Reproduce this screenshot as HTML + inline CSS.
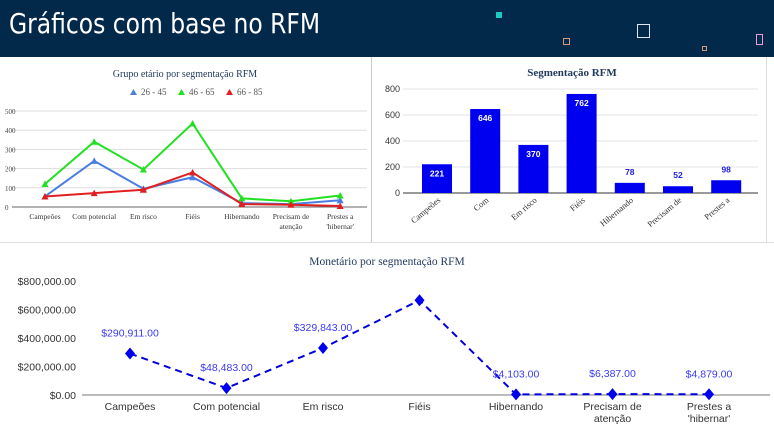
<!DOCTYPE html>
<html><head><meta charset="utf-8"><style>
body{margin:0;width:774px;height:433px;overflow:hidden;background:#fff;font-family:"Liberation Sans",sans-serif;position:relative}
#hdr{position:absolute;left:0;top:0;width:774px;height:57px;background:#02284a}
#hdr h1{position:absolute;left:9px;top:7px;margin:0;color:#fff;font:28px "DejaVu Sans Condensed","Liberation Sans Narrow","Liberation Sans",sans-serif;white-space:nowrap;transform-origin:0 0;transform:scaleX(0.93)}
svg{position:absolute}
text{font-family:"Liberation Sans",sans-serif}
.serif{font-family:"Liberation Serif",serif}
</style></head><body>
<div id="hdr">
<h1>Gráficos com base no RFM</h1>
<div style="position:absolute;left:496px;top:12px;width:6px;height:6px;background:#1ec9c2"></div>
<div style="position:absolute;left:563px;top:38px;width:5px;height:5px;border:1px solid #d9987a"></div>
<div style="position:absolute;left:637px;top:24px;width:11px;height:12px;border:1px solid #dfe6ee"></div>
<div style="position:absolute;left:702px;top:46px;width:3px;height:3px;border:1px solid #d9987a"></div>
<div style="position:absolute;left:756px;top:34px;width:5px;height:9px;border:1px solid #e0a0d8"></div>
</div>
<div style="position:absolute;left:371px;top:57px;width:1px;height:185px;background:#ccc"></div>
<div style="position:absolute;left:0;top:242px;width:774px;height:1px;background:#ddd"></div>
<div style="position:absolute;left:766px;top:57px;width:1px;height:185px;background:#ddd"></div>

<svg id="c1" width="371" height="185" style="left:0;top:57px"></svg>
<svg id="c2" width="395" height="185" style="left:372px;top:57px"></svg>
<svg id="c3" width="774" height="190" style="left:0;top:243px"></svg>

<script>
const NS="http://www.w3.org/2000/svg";
function mk(p,t,a,txt){const e=document.createElementNS(NS,t);for(const k in a)e.setAttribute(k,a[k]);if(txt!==undefined)e.textContent=txt;p.appendChild(e);return e;}

// Chart 1
const ageCats=["Campeões","Com potencial","Em risco","Fiéis","Hibernando","Precisam de|atenção","Prestes a|'hibernar'"];
const age2645=[55,240,95,155,20,15,35];
const age4665=[120,340,195,435,45,30,60];
const age6685=[55,72,90,180,15,12,5];
const ageTicks=[0,100,200,300,400,500];
const ageSeriesNames=["26 - 45","46 - 65","66 - 85"];
(function(){
const s=document.getElementById('c1');
const y=v=>150-v*0.192, x=i=>45+i*49.2;
const t=mk(s,'text',{x:185,y:20,'text-anchor':'middle','font-size':10,fill:'#223a5e',class:'serif'},'Grupo etário por segmentação RFM');

const cols=['#4a7fe0','#22e022','#e02020'];
ageSeriesNames.forEach((n,k)=>{const lx=130+k*48;
 const g=mk(s,'g',{});
 mk(g,'path',{d:`M${lx} ${38}l3.5 -6l3.5 6z`,fill:cols[k]});
 mk(g,'text',{x:lx+11,y:38,'font-size':9,fill:'#555',class:'serif'},n);});
ageTicks.forEach(v=>{const g=mk(s,'line',{x1:12,x2:367,y1:y(v),y2:y(v),stroke:v?'#ddd':'#666','stroke-width':1});
 
 const tl=mk(s,'text',{x:5,y:y(v)+3,'font-size':7,fill:'#444',class:'serif'},v);
 });
ageCats.forEach((c,i)=>{c.split('|').forEach((l,j)=>{const e=mk(s,'text',{x:x(i),y:162+j*10,'font-size':7.5,fill:'#333','text-anchor':'middle',class:'serif'},l);
 });});
[age2645,age4665,age6685].forEach((d,k)=>{
 const ln=mk(s,'polyline',{points:d.map((v,i)=>x(i)+','+y(v)).join(' '),fill:'none',stroke:cols[k],'stroke-width':2});
 
 d.forEach((v,i)=>{const m=mk(s,'path',{d:`M${x(i)-3.5} ${y(v)+3}l3.5 -6.5l3.5 6.5z`,fill:cols[k]});
 });});
})();

// Chart 2
const segCats=["Campeões","Com","Em risco","Fiéis","Hibernando","Precisam de","Prestes a"];
const segVals=[221,646,370,762,78,52,98];
const segTicks=[0,200,400,600,800];
(function(){
const s=document.getElementById('c2');
const y=v=>136-v*0.13, x=i=>65+i*48.2;
const t=mk(s,'text',{x:200,y:19,'text-anchor':'middle','font-size':11,fill:'#223a5e',class:'serif','font-weight':'bold'},'Segmentação RFM');

segTicks.forEach(v=>{const l=mk(s,'line',{x1:31,x2:386,y1:y(v),y2:y(v),stroke:v?'#e3e3e3':'#333'});
 
 const tl=mk(s,'text',{x:28,y:y(v)+3,'font-size':9,fill:'#333','text-anchor':'end'},v);
 });
segVals.forEach((v,i)=>{const b=mk(s,'rect',{x:x(i)-15,y:y(v),width:30,height:v*0.13,fill:'#0000f0'});
 
 const inside=v>150;
 const lb=mk(s,'text',{x:x(i),y:inside?y(v)+12:y(v)-8,'font-size':8.5,'font-weight':'bold','text-anchor':'middle',fill:inside?'#fff':'#2020e0'},v);
 });
segCats.forEach((c,i)=>{const e=mk(s,'text',{x:x(i)+4,y:144,'font-size':8.5,fill:'#333','text-anchor':'end',class:'serif',transform:`rotate(-40 ${x(i)+4} 144)`},c);
 });
})();

// Chart 3
const monCats=["Campeões","Com potencial","Em risco","Fiéis","Hibernando","Precisam de|atenção","Prestes a|'hibernar'"];
const monVals=[290911,48483,329843,665000,4103,6387,4879];
const monLabels=["$290,911.00","$48,483.00","$329,843.00","","$4,103.00","$6,387.00","$4,879.00"];
const monTicks=[0,200000,400000,600000,800000];
const monTickLabels=["$0.00","$200,000.00","$400,000.00","$600,000.00","$800,000.00"];
(function(){
const s=document.getElementById('c3');
const y=v=>152-v*0.0001425, x=i=>130+i*96.5;
const t=mk(s,'text',{x:387,y:22,'text-anchor':'middle','font-size':11.5,fill:'#223a5e',class:'serif'},'Monetário por segmentação RFM');

monTicks.forEach((v,k)=>{const tl=mk(s,'text',{x:76,y:y(v)+4,'font-size':10.5,fill:'#333','text-anchor':'end'},monTickLabels[k]);
 });
const ax=mk(s,'line',{x1:82,x2:770,y1:y(0),y2:y(0),stroke:'#777','stroke-width':1});

monCats.forEach((c,i)=>{c.split('|').forEach((l,j)=>{const e=mk(s,'text',{x:x(i),y:167+j*12,'font-size':10.5,fill:'#333','text-anchor':'middle'},l);
 });});
const ln=mk(s,'polyline',{points:monVals.map((v,i)=>x(i)+','+y(v)).join(' '),fill:'none',stroke:'#0000dd','stroke-width':2,'stroke-dasharray':'7 5'});

monVals.forEach((v,i)=>{const m=mk(s,'path',{d:`M${x(i)} ${y(v)-6}l5 6l-5 6l-5 -6z`,fill:'#0000ee'});
 
 if(monLabels[i]){const lb=mk(s,'text',{x:x(i),y:y(v)-17,'font-size':10.5,fill:'#3a3af0','text-anchor':'middle'},monLabels[i]);
 }});
})();
</script>
</body></html>
